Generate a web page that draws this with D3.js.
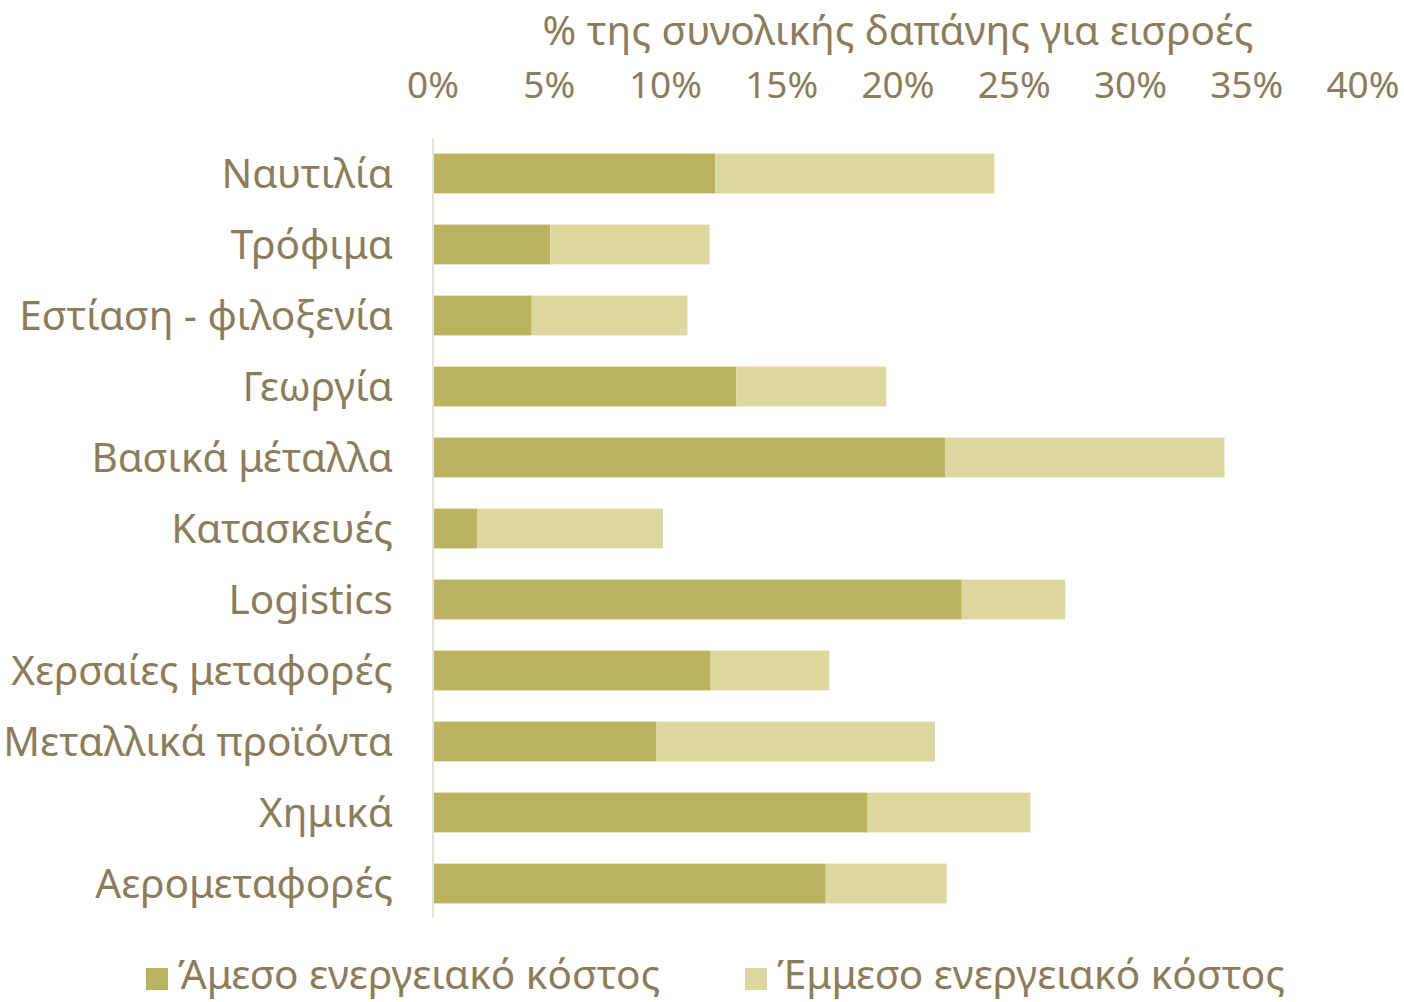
<!DOCTYPE html>
<html>
<head>
<meta charset="utf-8">
<script src="https://cdn.jsdelivr.net/npm/d3@7"></script>
<style>
  body { margin: 0; background: #fff; }
  text { font-family: "Noto Sans", "DejaVu Sans", sans-serif; fill: #8B7D5B; }
</style>
</head>
<body>
<svg id="chart"></svg>
<script>
const w = 1404, h = 1002;

// Data (% of total input spending)
const categories = ["Ναυτιλία", "Τρόφιμα", "Εστίαση - φιλοξενία", "Γεωργία", "Βασικά μέταλλα",
  "Κατασκευές", "Logistics", "Χερσαίες μεταφορές", "Μεταλλικά προϊόντα", "Χημικά", "Αερομεταφορές"];
const directCost   = [12.1, 5.0, 4.2, 13.0, 22.0, 1.85, 22.7, 11.9, 9.55, 18.65, 16.85];
const indirectCost = [12.0, 6.85, 6.7, 6.45, 12.0, 8.0, 4.45, 5.1, 12.0, 7.0, 5.2];
const seriesNames = ["Άμεσο ενεργειακό κόστος", "Έμμεσο ενεργειακό κόστος"];
const colors = ["#BBB35F", "#DDD8A0"];
const tickValues = [0, 5, 10, 15, 20, 25, 30, 35, 40];
const axisTitle = "% της συνολικής δαπάνης για εισροές";

const rows = categories.map(function(c, i) {
  return {name: c, direct: directCost[i], indirect: indirectCost[i]};
});
const stack = d3.stack().keys(["direct", "indirect"])(rows);

const x = d3.scaleLinear().domain([0, 40]).range([433, 1363]);
const y = d3.scaleBand().domain(categories).range([138, 919]).paddingInner(0.44).paddingOuter(0.22);

const svg = d3.select('#chart')
  .attr('width', w)
  .attr('height', h);

// left axis line
svg.append('line')
  .attr('x1', x(0)).attr('x2', x(0))
  .attr('y1', 138).attr('y2', 918)
  .style('stroke', '#E6E2D6')
  .style('stroke-width', 2);

// bars
svg.selectAll('g.series')
  .data(stack)
  .enter()
  .append('g')
  .attr('class', 'series')
  .attr('fill', function(d, i) { return colors[i]; })
  .selectAll('rect')
  .data(function(d) { return d; })
  .enter()
  .append('rect')
  .attr('x', function(d) { return x(d[0]) + 1; })
  .attr('y', function(d) { return y(d.data.name); })
  .attr('width', function(d) { return x(d[1]) - x(d[0]); })
  .attr('height', y.bandwidth());

// category labels
svg.selectAll('text.cat')
  .data(categories)
  .enter()
  .append('text')
  .attr('class', 'cat')
  .attr('x', 393)
  .attr('y', function(d) { return y(d) + y.bandwidth() / 2; })
  .attr('dy', '0.35em')
  .attr('text-anchor', 'end')
  .style('font-size', '40.5px')
  .text(function(d) { return d; });

// top tick labels
svg.selectAll('text.tick')
  .data(tickValues)
  .enter()
  .append('text')
  .attr('class', 'tick')
  .attr('x', function(d) { return x(d); })
  .attr('y', 98)
  .attr('text-anchor', 'middle')
  .style('font-size', '37px')
  .text(function(d) { return d + '%'; });

// axis title
svg.append('text')
  .attr('x', (x(0) + x(40)) / 2)
  .attr('y', 45)
  .attr('text-anchor', 'middle')
  .style('font-size', '40.5px')
  .text(axisTitle);

// legend
const legendX = [146, 745];
const legend = svg.selectAll('g.legend')
  .data(seriesNames)
  .enter()
  .append('g')
  .attr('class', 'legend');

legend.append('rect')
  .attr('x', function(d, i) { return legendX[i]; })
  .attr('y', 968)
  .attr('width', 22)
  .attr('height', 22)
  .style('fill', function(d, i) { return colors[i]; });

legend.append('text')
  .attr('x', function(d, i) { return legendX[i] + 32; })
  .attr('y', 989)
  .style('font-size', '40.5px')
  .text(function(d) { return d; });
</script>
</body>
</html>
